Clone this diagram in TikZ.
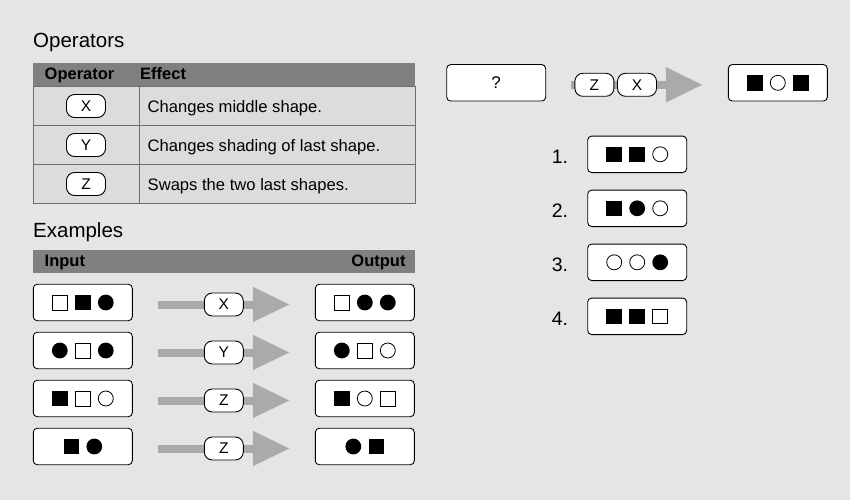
\documentclass[tikz,border=0pt]{standalone}
\usepackage{fontspec}
\setmainfont{Liberation Sans}
\usepackage{xcolor}
\definecolor{backdrop}{HTML}{E5E5E5}
\definecolor{headbar}{HTML}{808080}
\definecolor{rowfill}{HTML}{DCDCDC}
\definecolor{tablerule}{HTML}{6E6E6E}
\definecolor{flow}{HTML}{AAAAAA}
\usetikzlibrary{positioning}
\usetikzlibrary{arrows.meta}
\tikzset{pics/.cd,
	sqwhite/.style={code={\filldraw[fill=white, draw=black, line width=0.8pt, sharp corners] (-7.4,-7.4) rectangle (7.4,7.4);}},
	sqblack/.style={code={\fill[black, sharp corners] (-7.8,-7.8) rectangle (7.8,7.8);}},
	ciwhite/.style={code={\filldraw[fill=white, draw=black, line width=0.8pt] (0,0) circle[radius=7.5];}},
	ciblack/.style={code={\fill[black] (0,0) circle[radius=7.9];}}}
\tikzset{
	statebox/.style={draw=black, fill=white, line width=0.9pt, rounded corners=4pt, minimum width=99pt, minimum height=36.5pt, inner sep=0pt, font=\fontsize{17}{17}\selectfont},
	oppill/.style={draw=black, fill=white, line width=0.9pt, rounded corners=8pt, minimum width=39pt, minimum height=23pt, inner sep=0pt, font=\fontsize{15.5}{15.5}\selectfont},
	flowarrow/.style={draw=flow, line width=8pt, -{Triangle[width=33pt,length=37pt]}, shorten <=25pt, shorten >=25pt},
	heading/.style={anchor=base west, inner sep=0pt, font=\fontsize{20.5}{20.5}\selectfont},
	headtext/.style={inner sep=0pt, font=\fontsize{16.5}{16.5}\selectfont\bfseries},
	celltext/.style={anchor=base west, inner sep=0pt, font=\fontsize{16.6}{16.6}\selectfont},
	numlabel/.style={inner sep=0pt, yshift=-2pt, font=\fontsize{19.5}{19.5}\selectfont}}
% three shapes side by side in a box
\newcommand{\threeshapes}[4]{\path (#1) ++(-23,0) pic{#2} ++(23,0) pic{#3} ++(23,0) pic{#4};}
\newcommand{\twoshapes}[3]{\path (#1) ++(-11.5,0) pic{#2} ++(23,0) pic{#3};}

\begin{document}
\begin{tikzpicture}[x=1pt, y=-1pt]
	\useasboundingbox (0,0) rectangle (850,500);
	\fill[backdrop] (0,0) rectangle (850,500);
	
	% Operators
	\node[heading] (optitle) at (33,48) {Operators};
	\fill[headbar] (33,63.5) rectangle (415,86);
	\node[headtext, anchor=base west] (ophead) at (44.5,80) {Operator};
	\node[headtext, anchor=base west] (effhead) at (140,80) {Effect};
	\filldraw[fill=rowfill, draw=tablerule, line width=0.8pt] (33,86) rectangle (415,203.5);
	\draw[tablerule, line width=0.8pt] (33,125.5) -- (415,125.5) (33,164.5) -- (415,164.5) (139.5,86) -- (139.5,203.5);
	\foreach \y/\op/\txt in {106/X/Changes middle shape., 145/Y/Changes shading of last shape., 184/Z/Swaps the two last shapes.}{
		\node[oppill] (key\op) at (86,\y) {\op};
		\node[celltext] (eff\op) at (147.5,{\y+6}) {\txt};
	}
	
	% Examples
	\node[heading] (extitle) at (33,237.3) {Examples};
	\fill[headbar] (33,250) rectangle (415,272.7);
	\node[headtext, anchor=base west] (inhead) at (44.5,266.7) {Input};
	\node[headtext, anchor=base east] (outhead) at (405.7,266.7) {Output};
	\foreach \i/\y/\op in {1/302.5/X, 2/350.5/Y, 3/398.5/Z, 4/446.5/Z}{
		\node[statebox] (in\i) at (82.8,\y) {};
		\node[statebox] (out\i) at (364.8,\y) {};
		\draw[flowarrow] ([yshift=-2pt]in\i.east) -- ([yshift=-2pt]out\i.west) node[oppill, midway] (op\i) {\op};
	}
	\threeshapes{in1}{sqwhite}{sqblack}{ciblack}
	\threeshapes{out1}{sqwhite}{ciblack}{ciblack}
	\threeshapes{in2}{ciblack}{sqwhite}{ciblack}
	\threeshapes{out2}{ciblack}{sqwhite}{ciwhite}
	\threeshapes{in3}{sqblack}{sqwhite}{ciwhite}
	\threeshapes{out3}{sqblack}{ciwhite}{sqwhite}
	\twoshapes{in4}{sqblack}{ciblack}
	\twoshapes{out4}{ciblack}{sqblack}
	
	% Question
	\node[statebox] (ask) at (496.2,82.8) {?};
	\node[statebox] (goal) at (777.8,82.8) {};
	\threeshapes{goal}{sqblack}{ciwhite}{sqblack}
	\draw[flowarrow] ([yshift=-2pt]ask.east) -- ([yshift=-2pt]goal.west) node[oppill, midway] (qX) {X};
	\node[oppill, left=2.7pt of qX] (qZ) {Z};
	
	% Answers
	\foreach \i/\y in {1/154.3, 2/208.3, 3/262.3, 4/316.3}{
		\node[statebox] (ans\i) at (637.2,\y) {};
		\node[numlabel, left=19pt of ans\i] (num\i) {\i.};
	}
	\threeshapes{ans1}{sqblack}{sqblack}{ciwhite}
	\threeshapes{ans2}{sqblack}{ciblack}{ciwhite}
	\threeshapes{ans3}{ciwhite}{ciwhite}{ciblack}
	\threeshapes{ans4}{sqblack}{sqblack}{sqwhite}
\end{tikzpicture}
\end{document}
